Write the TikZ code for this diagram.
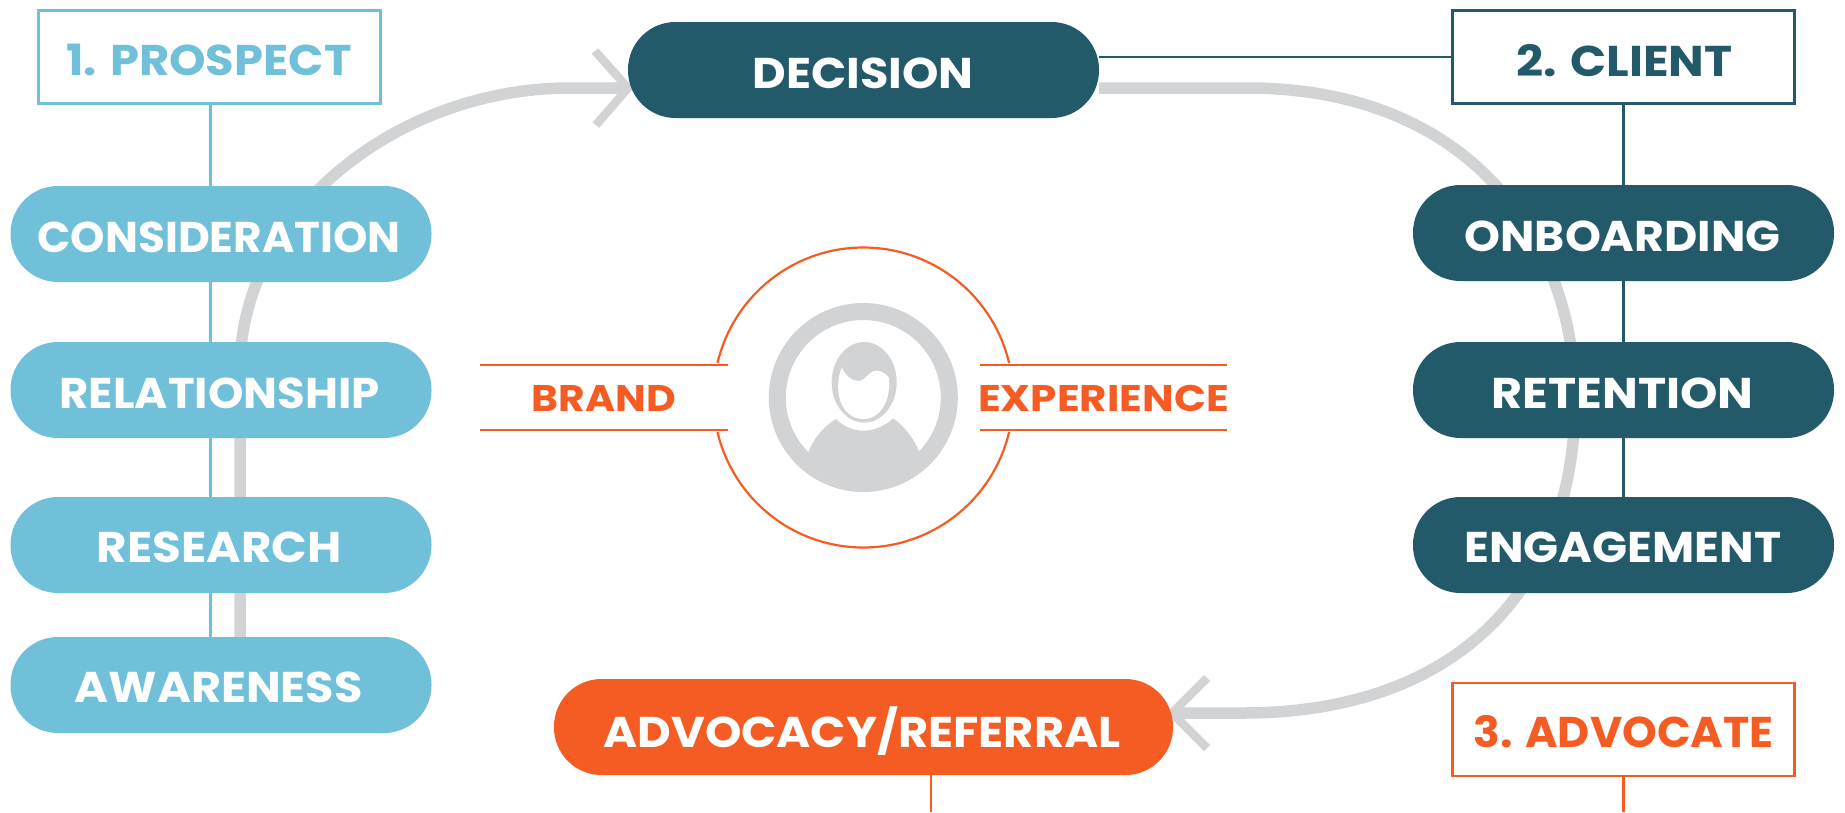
\documentclass[tikz,border=0pt]{standalone}
\usepackage{fontspec}
\usepackage{graphicx}
\setmainfont{Poppins}
\usetikzlibrary{calc}
\pgfdeclarelayer{bg}
\pgfsetlayers{bg,main}
\definecolor{lblue}{HTML}{6FC0D8}
\definecolor{dteal}{HTML}{235A69}
\definecolor{orng}{HTML}{F45C24}
\definecolor{lgray}{HTML}{D1D3D4}
% text of a fixed width at a fixed cap height
\newcommand{\lab}[3]{\resizebox{#1pt}{\height}{\fontsize{#2}{#2}\selectfont\bfseries #3}}
\tikzset{
  x=1pt,y=-1pt,
  pill/.style={rectangle,rounded corners=47.5pt,fill=#1,draw=none,inner sep=0pt,minimum height=96pt},
  framebox/.style={rectangle,draw=#1,line width=2.5pt,fill=white,inner sep=0pt,minimum width=342pt,minimum height=93pt},
  txt/.style={inner sep=0pt,text=#1},
  flow/.style={draw=lgray,line width=11.5pt},
  barb/.style={draw=lgray,line width=8.5pt},
  link/.style={draw=#1,line width=2.5pt},
  brandline/.style={draw=orng,line width=2.2pt},
}
\begin{document}
\begin{tikzpicture}
\useasboundingbox (0,0) rectangle (1845,812);
% ---- pills
\node[pill=lblue,minimum width=421pt] (cons) at (221,234) {};
\node[pill=lblue,minimum width=421pt] (rela) at (221,390) {};
\node[pill=lblue,minimum width=421pt] (rese) at (221,545) {};
\node[pill=lblue,minimum width=421pt] (awar) at (221,685) {};
\node[pill=dteal,minimum width=421pt] (onbo) at (1623.5,233) {};
\node[pill=dteal,minimum width=421pt] (rete) at (1623.5,390) {};
\node[pill=dteal,minimum width=421pt] (enga) at (1623.5,545) {};
\node[pill=dteal,minimum width=471pt] (deci) at (863.5,70) {};
\node[pill=orng,minimum width=619pt] (advo) at (863.5,727) {};
% ---- boxes
\node[framebox=lblue] (prospect) at (209.5,57) {};
\node[framebox=dteal] (client) at (1623.5,57) {};
\node[framebox=orng] (advocate) at (1623.5,729.5) {};
% ---- texts
\node[txt=lblue] (t1) at (209,60) {\lab{285}{43}{1. PROSPECT}};
\node[txt=dteal] (t2) at (1624.5,61) {\lab{216}{43}{2. CLIENT}};
\node[txt=orng] (t3) at (1623.5,732) {\lab{300}{43}{3. ADVOCATE}};
\node[txt=white] (tcons) at (219,237) {\lab{363}{43}{CONSIDERATION}};
\node[txt=white] (trela) at (219.5,393) {\lab{320}{43}{RELATIONSHIP}};
\node[txt=white] (trese) at (219,547) {\lab{245}{43}{RESEARCH}};
\node[txt=white] (tawar) at (218.5,687) {\lab{288}{43}{AWARENESS}};
\node[txt=white] (tonbo) at (1622.5,236) {\lab{316}{43}{ONBOARDING}};
\node[txt=white] (trete) at (1622.5,393) {\lab{262}{43}{RETENTION}};
\node[txt=white] (tenga) at (1623,547) {\lab{317}{43}{ENGAGEMENT}};
\node[txt=white] (tdeci) at (863,73.5) {\lab{221}{43}{DECISION}};
\node[txt=white,anchor=base] (tadvo) at (862,747) {\lab{517}{43}{ADVOCACY/REFERRAL}};
\node[txt=orng] (tbrand) at (604,398.5) {\lab{144}{37}{BRAND}};
\node[txt=orng] (texper) at (1103.5,398.5) {\lab{251}{37}{EXPERIENCE}};
% ---- centre ring and figure
\coordinate (cc) at (863.3,397.5);
\begin{scope}
  \clip (cc) circle (80pt);
  \fill[lgray] (808.3,452.3) .. controls (814,438) and (823,427) .. (836,419)
     .. controls (843,426) and (853,430.7) .. (863.3,430.7)
     .. controls (874,430.7) and (885,426) .. (893.3,418.3)
     .. controls (905,427) and (914,439) .. (919,451)
     -- (925,490) -- (800,490) -- cycle;
\end{scope}
\fill[lgray,even odd rule] (cc) circle (94.5pt) (cc) circle (77.5pt);
\fill[lgray] (864.2,382.3) ellipse [x radius=32.5pt,y radius=40.3pt];
\fill[white] (841.7,367.7) .. controls (846,376) and (852,381) .. (858.3,381)
   .. controls (865,381) and (869,370.7) .. (876.7,370.7)
   .. controls (881,370.7) and (886,374) .. (889,377.7)
   .. controls (891,400) and (881,419) .. (863.3,419)
   .. controls (846,419) and (837,402) .. (838.3,383.3)
   .. controls (838.5,377) and (840,372) .. (841.7,367.7) -- cycle;
% orange brand arcs and rules
\coordinate (ua) at (717.5,363);
\coordinate (ub) at (1009.1,363);
\coordinate (la) at (717.5,432);
\coordinate (lb) at (1009.1,432);
\draw[brandline] (ua) .. controls (733.5,295.4) and (793.7,247.5) .. (863.3,247.5)
   .. controls (933,247.5) and (993.1,295.4) .. (ub);
\draw[brandline] (la) .. controls (733.5,499.6) and (793.7,547.5) .. (863.3,547.5)
   .. controls (933,547.5) and (993.1,499.6) .. (lb);
\coordinate (l1a) at (480,365); \coordinate (l1b) at (728,365);
\coordinate (l2a) at (480,430); \coordinate (l2b) at (728,430);
\coordinate (r1a) at (980,365); \coordinate (r1b) at (1227,365);
\coordinate (r2a) at (980,430); \coordinate (r2b) at (1227,430);
\draw[brandline] (l1a) -- (l1b);
\draw[brandline] (l2a) -- (l2b);
\draw[brandline] (r1a) -- (r1b);
\draw[brandline] (r2a) -- (r2b);
% ---- connectors behind nodes
\begin{pgfonlayer}{bg}
  \coordinate (gl0) at (240,637);
  \coordinate (gl1) at (240,370);
  \coordinate (gl2) at (570,88);
  \coordinate (gltip) at (628,88);
  \coordinate (gla) at (595,51);
  \coordinate (glb) at (596,125);
  \draw[flow] (gl0) -- (gl1) .. controls (240,210) and (400,88) .. (gl2) -- (gltip);
  \draw[barb] (gla) -- (gltip) -- (glb);
  \coordinate (gr0) at (1099,88);
  \coordinate (gr1) at (1247,88);
  \coordinate (gr2) at (1575,400);
  \coordinate (gr3) at (1243,713);
  \coordinate (grtip) at (1172,713);
  \coordinate (gra) at (1207,678);
  \coordinate (grb) at (1207,748);
  \draw[flow] (gr0) -- (gr1) .. controls (1470,88) and (1575,240) .. (gr2)
     .. controls (1575,590) and (1455,713) .. (gr3) -- (grtip);
  \draw[barb] (gra) -- (grtip) -- (grb);
  % thin links
  \draw[link=lblue] (210.7,104) -- (210.7,637);
  \draw[link=dteal] (1623.5,104) -- (1623.5,497);
  \draw[link=dteal] (deci.east |- client.west) -- (client.west);
  \coordinate (advoend) at (931,812);
  \coordinate (advtend) at (1623.5,812);
  \draw[link=orng] (advo.south -| advoend) -- (advoend);
  \draw[link=orng] (advocate.south) -- (advtend);
\end{pgfonlayer}
\end{tikzpicture}
\end{document}
